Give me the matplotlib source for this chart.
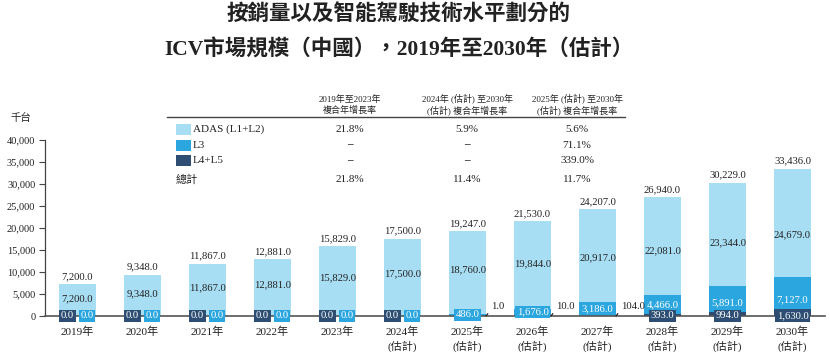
import matplotlib
matplotlib.use("Agg")
import matplotlib.pyplot as plt
from matplotlib.patches import Rectangle
from matplotlib.lines import Line2D
import numpy as np

# Fonts: serif for Latin/digits, Noto CJK TC for the traditional Chinese characters
plt.rcParams['font.family'] = ['Liberation Serif', 'Noto Sans CJK TC']

# Chart data (thousand units)
years = ["2019年", "2020年", "2021年", "2022年", "2023年",
         "2024年\n(估計)", "2025年\n(估計)", "2026年\n(估計)", "2027年\n(估計)",
         "2028年\n(估計)", "2029年\n(估計)", "2030年\n(估計)"]
adas = [7200, 9348, 11867, 12881, 15829, 17500, 18760, 19844, 20917, 22081, 23344, 24679]
l3 = [0, 0, 0, 0, 0, 0, 486, 1676, 3186, 4466, 5891, 7127]
l45 = [0, 0, 0, 0, 0, 0, 1, 10, 104, 393, 994, 1630]
totals = [7200, 9348, 11867, 12881, 15829, 17500, 19247, 21530, 24207, 26940, 30229, 33436]

# CAGR table
row_names = ["ADAS (L1+L2)", "L3", "L4+L5", "總計"]
cagr_headers = ["2019年至2023年\n複合年增長率",
                "2024年 (估計) 至2030年\n(估計) 複合年增長率",
                "2025年 (估計) 至2030年\n(估計) 複合年增長率"]
cagr_1923 = ["21.8%", "–", "–", "21.8%"]
cagr_2430 = ["5.9%", "–", "–", "11.4%"]
cagr_2530 = ["5.6%", "71.1%", "339.0%", "11.7%"]

c_adas = "#A8DEF3"
c_l3 = "#2BA6DF"
c_l45 = "#2D4E72"
txt = "#222222"

W, H = 830, 357
fig = plt.figure(figsize=(W / 100, H / 100), dpi=100)


def px(x, y):
    # pixel position -> figure fraction
    return x / W, 1 - y / H


# Titles
fig.text(*px(399, 15), "按銷量以及智能駕駛技術水平劃分的", ha="center", va="center",
         fontsize=15.5, fontweight="bold", color=txt)
fig.text(*px(399, 50), "ICV市場規模（中國），2019年至2030年（估計）", ha="center", va="center",
         fontsize=15.5, fontweight="bold", color=txt)

# Main axes
ax = fig.add_axes([45 / W, 1 - 316 / H, 780 / W, 176 / H])
x = np.arange(len(years))
w = 0.57
l45_a = np.array(l45)
l3_a = np.array(l3)
ax.bar(x, l45, w, color=c_l45, zorder=2)
ax.bar(x, l3, w, bottom=l45_a, color=c_l3, zorder=2)
ax.bar(x, adas, w, bottom=l45_a + l3_a, color=c_adas, zorder=2)

ax.set_xlim(-0.5, len(years) - 0.5)
ax.set_ylim(0, 40000)
ax.set_yticks(range(0, 40001, 5000))
ax.set_yticklabels([f"{v:,}" for v in range(0, 40001, 5000)], fontsize=7.5, color=txt)
ax.set_xticks(x)
ax.set_xticklabels(years, fontsize=8, color=txt, linespacing=1.35)
ax.tick_params(axis="x", length=0, pad=8)
ax.tick_params(axis="y", length=4, width=0.8, color="#444444", pad=3, direction="out")
for s in ["top", "right"]:
    ax.spines[s].set_visible(False)
ax.spines["left"].set_color("#444444")
ax.spines["left"].set_linewidth(0.9)
ax.spines["bottom"].set_color("#555555")
ax.spines["bottom"].set_linewidth(1.2)
ax.spines["bottom"].set_zorder(3)

fs = 7.7
box = dict(boxstyle="square,pad=0.15", ec="none")
for i in range(len(years)):
    # total on top
    ax.annotate(f"{totals[i]:,.1f}", (x[i], totals[i]), xytext=(0, 2.5),
                textcoords="offset points", ha="center", va="bottom", fontsize=fs, color=txt)
    # ADAS value inside
    ax.text(x[i], totals[i] * 0.55, f"{adas[i]:,.1f}", ha="center", va="center",
            fontsize=fs, color=txt, zorder=4)
    if l3[i] == 0 and l45[i] == 0:
        ax.text(x[i] - 0.155, 0, f"{l45[i]:,.1f}", ha="center", va="center", fontsize=fs,
                color="white", bbox=dict(box, fc=c_l45), zorder=4)
        ax.text(x[i] + 0.147, 0, f"{l3[i]:,.1f}", ha="center", va="center", fontsize=fs,
                color="white", bbox=dict(box, fc=c_l3), zorder=4)
    elif l45[i] < 300:
        ax.text(x[i], l45[i] + l3[i] / 2, f"{l3[i]:,.1f}", ha="center", va="center",
                fontsize=fs, color="white", bbox=dict(box, fc=c_l3), zorder=4)
        # small L4+L5 value with a leader line from the bar corner
        ax.annotate(f"{l45[i]:,.1f}", (x[i] + w / 2, 0), xytext=(x[i] + 0.355, 2200),
                    ha="left", va="center", fontsize=fs, color=txt, zorder=5,
                    arrowprops=dict(arrowstyle="-", color="#222222", lw=0.9,
                                    shrinkA=0, shrinkB=0, relpos=(0, 0.1)))
    else:
        ax.text(x[i], min(l45[i] + l3[i] / 2, l45[i] + 2100), f"{l3[i]:,.1f}",
                ha="center", va="center", fontsize=fs, color="white", zorder=4)
        ax.text(x[i], 0, f"{l45[i]:,.1f}", ha="center", va="center", fontsize=fs,
                color="white", bbox=dict(box, fc=c_l45), zorder=4)

# Unit label
fig.text(*px(21, 118), "千台", ha="center", va="center", fontsize=7.5, color=txt)

# CAGR table
col_x = [350, 467, 577]
for cx, head in zip(col_x, cagr_headers):
    fig.text(*px(cx, 105), head, ha="center", va="center", fontsize=6.5,
             color=txt, linespacing=1.25)
fig.add_artist(Line2D([167 / W, 625 / W], [1 - 116.7 / H] * 2, color="#444444", lw=1.0))

row_y = [129.3, 145, 160.3, 179.3]
patch_cols = [c_adas, c_l3, c_l45]
for j, (name, ry) in enumerate(zip(row_names, row_y)):
    if j < 3:
        fig.add_artist(Rectangle(px(176, ry + 5.5), 14.7 / W, 11 / H,
                                 transform=fig.transFigure, fc=patch_cols[j], ec="none"))
        fig.text(*px(193, ry), name, ha="left", va="center", fontsize=8, color=txt)
    else:
        fig.text(*px(176, ry), name, ha="left", va="center", fontsize=8, color=txt)
    for cx, col in zip(col_x, [cagr_1923, cagr_2430, cagr_2530]):
        fig.text(*px(cx, ry), col[j], ha="center", va="center", fontsize=8, color=txt,
                 fontweight="bold" if col[j] == "–" else "normal")

fig.savefig("out.png", dpi=100)
